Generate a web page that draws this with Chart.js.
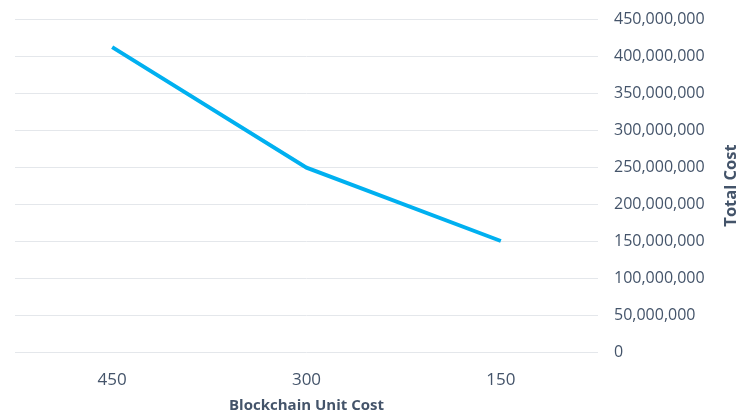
<!DOCTYPE html>
<html>
<head>
<meta charset="utf-8">
<script src="https://cdn.jsdelivr.net/npm/chart.js@4/dist/chart.umd.min.js"></script>
<style>
  html, body { margin: 0; padding: 0; background: #fff; }
  #wrap { width: 737px; height: 416px; position: relative; }
</style>
</head>
<body>
<div id="wrap"><canvas id="costChart"></canvas></div>
<script>
(function () {
    // data
    const unitCosts = ['450', '300', '150'];
    const totalCosts = [412000000, 249000000, 150000000];
    const yTicks = [0, 50000000, 100000000, 150000000, 200000000, 250000000, 300000000, 350000000, 400000000, 450000000];

    const family = "'Open Sans', sans-serif";
    const textColor = '#44546a';

    function fmt(v) {
        return Number(v).toLocaleString('en-US');
    }

    // the right axis title reads bottom-to-top, so draw it ourselves
    const rightTitle = {
        id: 'rightTitle',
        afterDraw(chart) {
            const s = chart.scales.y;
            const c = chart.ctx;
            c.save();
            c.translate(s.right - 6, (chart.chartArea.top + chart.chartArea.bottom) / 2);
            c.rotate(-Math.PI / 2);
            c.font = "bold 16.5px " + family;
            c.fillStyle = textColor;
            c.textAlign = 'center';
            c.textBaseline = 'middle';
            c.fillText('Total Cost', 0, 0);
            c.restore();
        }
    };

    new Chart(document.getElementById('costChart'), {
        type: 'line',
        data: {
            labels: unitCosts,
            datasets: [{
                label: 'Total Cost',
                data: totalCosts,
                borderColor: '#00b0f0',
                borderWidth: 4,
                pointRadius: 0,
                tension: 0,
                fill: false
            }]
        },
        options: {
            responsive: true,
            maintainAspectRatio: false,
            animation: false,
            layout: { padding: { left: 15, top: 19, right: 0, bottom: 1 } },
            plugins: {
                legend: { display: false },
                tooltip: { enabled: false }
            },
            scales: {
                x: {
                    offset: true,
                    grid: { display: false, drawTicks: false },
                    border: { display: false },
                    ticks: { color: textColor, font: { family: family, size: 17 }, padding: 18 },
                    afterFit: (s) => { s.height = 63; },
                    title: {
                        display: true,
                        text: 'Blockchain Unit Cost',
                        color: textColor,
                        font: { family: family, size: 15, weight: 'bold' },
                        padding: { top: 0, bottom: 0 }
                    }
                },
                y: {
                    position: 'right',
                    min: 0,
                    max: 450000000,
                    afterBuildTicks: (axis) => { axis.ticks = yTicks.map(v => ({ value: v })); },
                    afterFit: (s) => {
                        s.width = 139;
                        s.paddingTop = 0;
                        s.paddingBottom = 0;
                    },
                    grid: { color: '#e4e7eb', lineWidth: 1, drawTicks: false },
                    border: { display: false },
                    ticks: {
                        color: textColor,
                        font: { family: family, size: 16 },
                        padding: 16,
                        callback: (v) => fmt(v)
                    }
                }
            }
        },
        plugins: [rightTitle]
    });
})();
</script>
</body>
</html>
